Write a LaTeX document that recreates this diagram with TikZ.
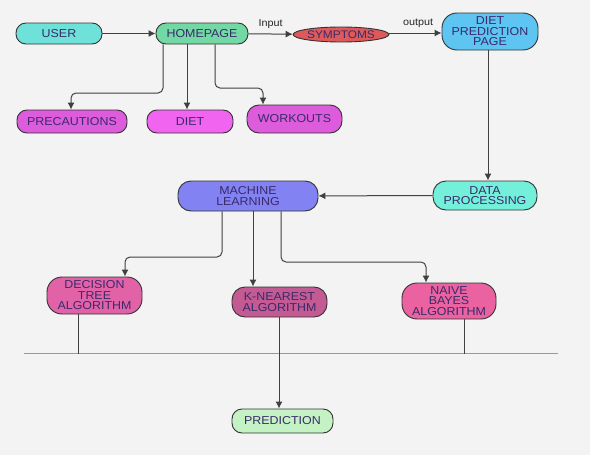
\documentclass[tikz,border=0pt]{standalone}
\usepackage{fontspec}
\setmainfont[FakeStretch=1.08]{Liberation Sans}
\usetikzlibrary{shapes.geometric,arrows.meta}
\definecolor{cuser}{HTML}{6EE2D8}
\definecolor{chome}{HTML}{72D8A4}
\definecolor{csymp}{HTML}{DE5A5A}
\definecolor{cdpp}{HTML}{5EC4F2}
\definecolor{cmag}{HTML}{DC5CDC}
\definecolor{cdiet}{HTML}{F064F0}
\definecolor{cml}{HTML}{8282F2}
\definecolor{cdata}{HTML}{74F0DA}
\definecolor{cdec}{HTML}{E262A8}
\definecolor{cknn}{HTML}{C45A92}
\definecolor{cnaive}{HTML}{EA62A0}
\definecolor{cpred}{HTML}{C4F2C4}
\definecolor{ctxt}{HTML}{3A2A6A}
\definecolor{cbg}{HTML}{F3F3F3}
\tikzset{
  box/.style={draw=black!80, line width=0.9pt, rounded corners=10pt, align=center,
    inner sep=0pt, text=ctxt, font=\fontsize{11.5}{10.5}\selectfont},
  arr/.style={draw=black!75, line width=1pt, -{Latex[length=7pt,width=7pt]}},
  ln/.style={draw=black!75, line width=1pt},
  lbl/.style={font=\fontsize{10}{10}\selectfont, text=black!85, inner sep=0pt}
}
\begin{document}
\begin{tikzpicture}[x=1pt,y=-1pt]
\fill[cbg] (0,0) rectangle (590,455);
\useasboundingbox (0,0) rectangle (590,455);
% top row
\node[box, fill=cuser, minimum width=86pt, minimum height=21pt] (user) at (59,33.5) {USER};
\node[box, fill=chome, minimum width=92pt, minimum height=21pt] (home) at (202,33.5) {HOMEPAGE};
\node[ellipse, draw=black!80, line width=0.9pt, fill=csymp, minimum width=77pt, minimum height=15pt, inner sep=0pt, text=ctxt, font=\fontsize{11}{10}\selectfont] (symp) at (341,34.5) {SYMPTOMS};
\node[box, fill=cdpp, minimum width=96pt, minimum height=37pt, rounded corners=15pt] (dpp) at (490,31.5) {DIET\\PREDICTION\\PAGE};
% second row
\node[box, fill=cmag, minimum width=110pt, minimum height=23pt] (prec) at (72,121.5) {PRECAUTIONS};
\node[box, fill=cdiet, minimum width=86pt, minimum height=23pt] (diet) at (190,121.5) {DIET};
\node[box, fill=cmag, minimum width=95pt, minimum height=28pt, rounded corners=12pt] (work) at (294.5,119) {WORKOUTS};
% third row
\node[box, fill=cml, minimum width=140pt, minimum height=30pt, rounded corners=13pt] (ml) at (248,196) {MACHINE\\LEARNING};
\node[box, fill=cdata, minimum width=104pt, minimum height=29pt, rounded corners=13pt] (data) at (485,195.5) {DATA\\PROCESSING};
% algorithms
\node[box, fill=cdec, minimum width=95pt, minimum height=37pt, rounded corners=15pt] (dec) at (94.5,295.5) {DECISION\\TREE\\ALGORITHM};
\node[box, fill=cknn, minimum width=95pt, minimum height=30pt, rounded corners=13pt] (knn) at (279.5,302) {K-NEAREST\\ALGORITHM};
\node[box, fill=cnaive, minimum width=94pt, minimum height=36pt, rounded corners=15pt] (naive) at (449,301) {NAIVE\\BAYES\\ALGORITHM};
\node[box, fill=cpred, minimum width=101pt, minimum height=24pt] (pred) at (282.5,421) {PREDICTION};
% bar
\coordinate (barL) at (24,353.5);
\coordinate (barR) at (558,353.5);
\draw[draw=black!40, line width=1.6pt] (barL) -- (barR);
% top connectors
\draw[arr] (user) -- (home);
\draw[arr] (home) -- node[lbl, above=5pt, pos=0.5] {Input} (symp);
\draw[arr] (symp.east |- 0,33) -- node[lbl, above=5pt, pos=0.55] {output} (dpp.west |- 0,33);
\draw[arr, rounded corners=5pt] (home.south -| 163,0) -- (163,93) -- (71,93) -- (prec.north -| 71,0);
\draw[arr] (home.south -| 187,0) -- (diet.north -| 187,0);
\draw[arr, rounded corners=5pt] (home.south -| 215,0) -- (215,88) -- (263,88) -- (work.north -| 263,0);
\draw[arr] (dpp.south -| 488,0) -- (data.north -| 488,0);
\draw[arr] (data) -- (ml);
% ML to algorithms
\draw[arr, rounded corners=5pt] (ml.south -| 222,0) -- (222,257) -- (125,257) -- (dec.north -| 125,0);
\draw[arr] (ml.south -| 253,0) -- (knn.north -| 253,0);
\draw[arr, rounded corners=5pt] (ml.south -| 281,0) -- (281,262) -- (426,262) -- (naive.north -| 426,0);
% algorithms to bar and prediction
\draw[ln] (dec.south -| 78,0) -- (barL -| 78,0);
\draw[ln] (naive.south -| 464,0) -- (barL -| 464,0);
\draw[arr] (knn.south -| 279,0) -- (pred.north -| 279,0);
\end{tikzpicture}
\end{document}
